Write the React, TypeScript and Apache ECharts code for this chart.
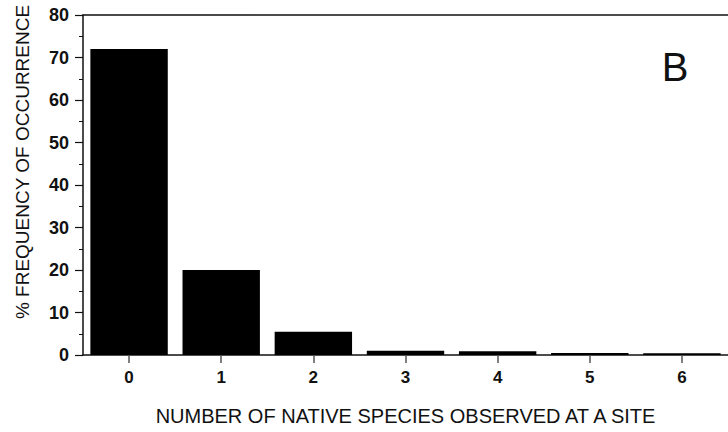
import React, { useEffect, useRef } from "react";
import * as echarts from "echarts";

// Number of native species observed at a site (x) vs % frequency of occurrence (y)
const speciesCounts = ["0", "1", "2", "3", "4", "5", "6"];
const frequencyPct = [72, 20, 5.5, 1, 0.9, 0.5, 0.4];
const yTicks = { min: 0, max: 80, interval: 10 };

const FONT = "'Liberation Sans', Arial, Helvetica, sans-serif";
const INK = "#111";

export default function App() {
  const ref = useRef<HTMLDivElement>(null);

  useEffect(() => {
    if (!ref.current) return;
    const chart = echarts.init(ref.current, null, { renderer: "svg" });
    chart.setOption({
      animation: false,
      backgroundColor: "#fff",
      grid: { left: 83, top: 15, bottom: 77, width: 655 },
      xAxis: [
        {
          type: "category",
          data: speciesCounts,
          position: "bottom",
          axisLine: { show: true, lineStyle: { color: INK, width: 1.5 } },
          axisTick: { show: true, alignWithLabel: true, length: 8, lineStyle: { color: "#555", width: 1.5 } },
          axisLabel: { fontFamily: FONT, fontWeight: "bold", fontSize: 17, color: INK, margin: 14 },
          name: "NUMBER OF NATIVE SPECIES OBSERVED AT A SITE",
          nameLocation: "middle",
          nameGap: 51,
          nameTextStyle: { fontFamily: FONT, fontSize: 20, color: INK, verticalAlign: "top" },
        },
        {
          type: "category",
          data: speciesCounts,
          position: "top",
          axisLine: { show: true, lineStyle: { color: INK, width: 1.5 } },
          axisTick: { show: false },
          axisLabel: { show: false },
        },
      ],
      yAxis: {
        type: "value",
        min: yTicks.min,
        max: yTicks.max,
        interval: yTicks.interval,
        axisLine: { show: true, lineStyle: { color: INK, width: 1.5 } },
        axisTick: { show: true, length: 8, lineStyle: { color: INK, width: 1.2 } },
        minorTick: { show: true, splitNumber: 2, length: 4, lineStyle: { color: INK, width: 1 } },
        splitLine: { show: false },
        axisLabel: { fontFamily: FONT, fontWeight: "bold", fontSize: 18, color: INK, margin: 14 },
      },
      series: [
        {
          type: "bar",
          data: frequencyPct,
          xAxisIndex: 0,
          barCategoryGap: "16%",
          itemStyle: { color: "#000" },
        },
      ],
      graphic: [
        {
          type: "text",
          x: 22,
          y: 162,
          rotation: Math.PI / 2,
          style: {
            text: "% FREQUENCY OF OCCURRENCE",
            fontFamily: FONT,
            fontSize: 19,
            fill: INK,
            textAlign: "center",
            textVerticalAlign: "middle",
          },
        },
        {
          type: "text",
          x: 675,
          y: 67,
          style: {
            text: "B",
            fontFamily: FONT,
            fontSize: 40,
            fill: INK,
            textAlign: "center",
            textVerticalAlign: "middle",
          },
        },
      ],
    });
    return () => chart.dispose();
  }, []);

  return (
    <div
      ref={ref}
      style={{ position: "fixed", left: 0, top: 0, width: 728, height: 432, background: "#fff" }}
    />
  );
}
